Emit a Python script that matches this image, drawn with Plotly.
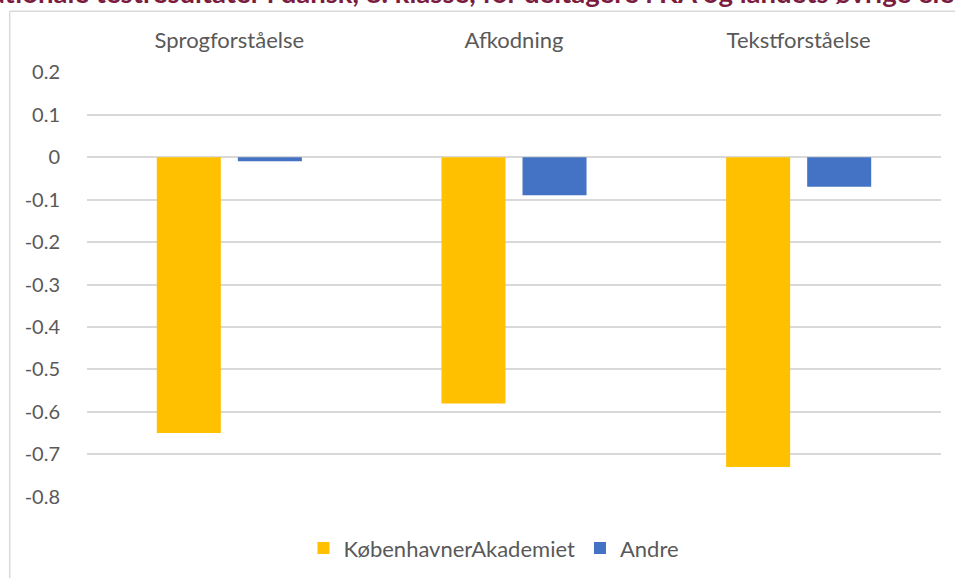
import plotly.graph_objects as go

categories = ["Sprogforståelse", "Afkodning", "Tekstforståelse"]
ka_values = [-0.65, -0.58, -0.73]
andre_values = [-0.01, -0.09, -0.07]
series_names = ["KøbenhavnerAkademiet", "Andre"]
y_tickvals = [0.2, 0.1, 0, -0.1, -0.2, -0.3, -0.4, -0.5, -0.6, -0.7, -0.8]
y_ticktext = ["0.2", "0.1", "0", "-0.1", "-0.2", "-0.3", "-0.4", "-0.5", "-0.6", "-0.7", "-0.8"]
title_text = "Nationale testresultater i dansk, 8. klasse, for deltagere i KA og landets øvrige elever"

FONT = "Lato, 'Open Sans', sans-serif"
GRAY = "#595959"
GRID = "#D9D9D9"

W, H = 955, 578
L, R, T, B = 87.25, 14.25, 71.7, 81.3
pw, ph = W - L - R, H - T - B

def px_x(p):
    return (p - L) / pw

def px_y(p):
    return (H - B - p) / ph

fig = go.Figure()
fig.add_trace(go.Bar(x=categories, y=ka_values, name=series_names[0],
                     marker=dict(color="#FFC000", line=dict(width=0))))
fig.add_trace(go.Bar(x=categories, y=andre_values, name=series_names[1],
                     marker=dict(color="#4472C4", line=dict(width=0))))

fig.update_layout(
    width=W, height=H,
    margin=dict(l=L, r=R, t=T, b=B, autoexpand=False),
    paper_bgcolor="white", plot_bgcolor="white",
    barmode="group", bargap=0.4306, bargroupgap=0.21,
    font=dict(family=FONT, color=GRAY, size=20),
    showlegend=True,
    legend=dict(orientation="h", x=px_x(494), xanchor="center",
                y=px_y(548), yanchor="middle",
                font=dict(family=FONT, size=22, color=GRAY),
                bgcolor="rgba(0,0,0,0)"),
    xaxis=dict(side="top", showgrid=False, showline=False, zeroline=False,
               ticks="outside", ticklen=14, tickcolor="rgba(0,0,0,0)",
               tickfont=dict(family=FONT, size=22, color=GRAY)),
    yaxis=dict(range=[-0.8005, 0.2005], tickvals=y_tickvals, ticktext=y_ticktext,
               showgrid=True, gridcolor=GRID, gridwidth=1.5,
               zeroline=True, zerolinecolor=GRID, zerolinewidth=1.5,
               showline=False, ticks="outside", ticklen=22,
               tickcolor="rgba(0,0,0,0)",
               tickfont=dict(family=FONT, size=20, color=GRAY)),
    shapes=[
        dict(type="line", xref="paper", yref="paper",
             x0=px_x(10), x1=px_x(10), y0=px_y(11), y1=px_y(620),
             line=dict(color=GRID, width=1.5)),
        dict(type="line", xref="paper", yref="paper",
             x0=px_x(10), x1=px_x(1000), y0=px_y(11), y1=px_y(11),
             line=dict(color=GRID, width=1.5)),
    ],
    annotations=[
        dict(text="<b>" + title_text + "</b>", xref="paper", yref="paper",
             x=px_x(482), y=px_y(-8), xanchor="center", yanchor="middle",
             showarrow=False, font=dict(family=FONT, size=27.5, color="#7B1C3F")),
    ],
)

fig.write_html("out.html",
               config={"displayModeBar": False},
               post_script="document.body.style.margin='0';document.body.style.overflow='hidden';")
